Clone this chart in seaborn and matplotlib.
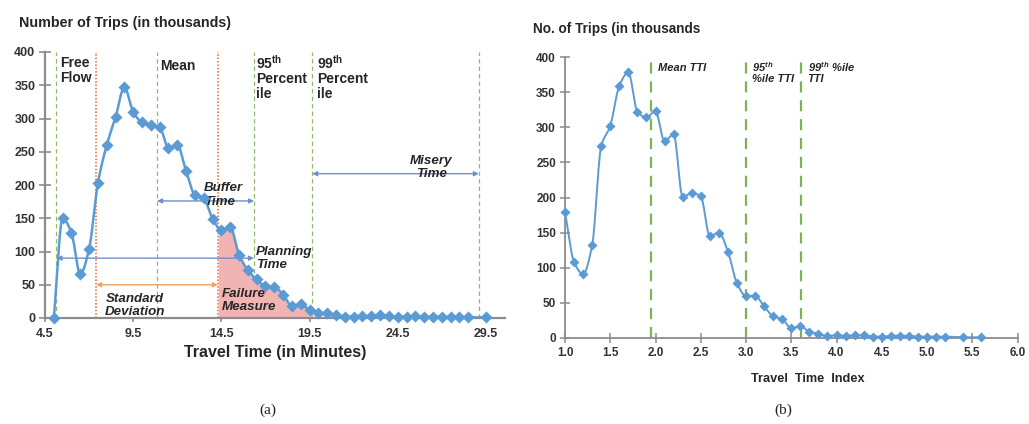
import numpy as np
import matplotlib
matplotlib.use("Agg")
import matplotlib.pyplot as plt
import seaborn as sns

# ---- panel (a): trip counts by travel time in minutes ----
travel_min = [5.0, 5.5, 6.0, 6.5, 7.0, 7.5, 8.0, 8.5, 9.0, 9.5, 10.0, 10.5, 11.0,
              11.5, 12.0, 12.5, 13.0, 13.5, 14.0, 14.5, 15.0, 15.5, 16.0, 16.5,
              17.0, 17.5, 18.0, 18.5, 19.0, 19.5, 20.0, 20.5, 21.0, 21.5, 22.0,
              22.5, 23.0, 23.5, 24.0, 24.5, 25.0, 25.5, 26.0, 26.5, 27.0, 27.5,
              28.0, 28.5, 29.5]
trips_a = [0, 150, 128, 66, 104, 203, 260, 302, 347, 310, 294, 290, 287,
           256, 260, 221, 185, 180, 149, 132, 137, 95, 72, 58,
           48, 47, 35, 18, 21, 12, 8, 7, 5, 2, 2,
           3, 3, 4, 3, 2, 2, 3, 2, 2, 2, 2,
           2, 1, 1]
a_xticks = [4.5, 9.5, 14.5, 19.5, 24.5, 29.5]
free_flow, mean_tt, sd_low, sd_high = 5.15, 10.85, 7.4, 14.3
p95_tt, p99_tt, misery_end = 16.35, 19.65, 29.1

# ---- panel (b): trip counts by travel time index ----
tti = [1.0, 1.1, 1.2, 1.3, 1.4, 1.5, 1.6, 1.7, 1.8, 1.9, 2.0, 2.1, 2.2, 2.3,
       2.4, 2.5, 2.6, 2.7, 2.8, 2.9, 3.0, 3.1, 3.2, 3.3, 3.4, 3.5, 3.6, 3.7,
       3.8, 3.9, 4.0, 4.1, 4.2, 4.3, 4.4, 4.5, 4.6, 4.7, 4.8, 4.9, 5.0, 5.1,
       5.2, 5.4, 5.6]
trips_b = [179, 108, 91, 132, 273, 302, 359, 378, 322, 314, 323, 280, 290, 201,
           206, 202, 145, 150, 123, 78, 60, 60, 45, 31, 27, 14, 17, 9,
           6, 3, 4, 3, 4, 4, 2, 2, 3, 3.5, 3, 2, 2, 2,
           2, 1, 1]
b_xticks = [1.0, 1.5, 2.0, 2.5, 3.0, 3.5, 4.0, 4.5, 5.0, 5.5, 6.0]
mean_tti, p95_tti, p99_tti = 1.95, 3.0, 3.61

y_ticks = [0, 50, 100, 150, 200, 250, 300, 350, 400]

sns.set_theme(style="white")
plt.rcParams["font.family"] = ["Liberation Sans", "DejaVu Sans"]
plt.rcParams["mathtext.fontset"] = "custom"
plt.rcParams["mathtext.rm"] = "Liberation Sans:bold"
plt.rcParams["mathtext.it"] = "Liberation Sans:italic:bold"

BLUE = "#5B9BD5"
GREEN = "#8DBF62"
RED = "#E8642E"
ARROW = "#6F8FCF"
ORANGE = "#F0A060"
TXT = "#262626"
SPINE = "#8C8C8C"


def smooth(x, y, n=14):
    """Monotone cubic (Fritsch-Carlson) curve through the points."""
    x = np.asarray(x, float)
    y = np.asarray(y, float)
    h = np.diff(x)
    d = np.diff(y) / h
    m = np.zeros_like(y)
    for k in range(1, len(x) - 1):
        if d[k - 1] * d[k] > 0:
            w1 = 2 * h[k] + h[k - 1]
            w2 = h[k] + 2 * h[k - 1]
            m[k] = (w1 + w2) / (w1 / d[k - 1] + w2 / d[k])
    m[0], m[-1] = d[0], d[-1]
    xs, ys = [], []
    t = np.linspace(0, 1, n, endpoint=False)
    h00 = 2 * t**3 - 3 * t**2 + 1
    h10 = t**3 - 2 * t**2 + t
    h01 = -2 * t**3 + 3 * t**2
    h11 = t**3 - t**2
    for k in range(len(x) - 1):
        xs.append(x[k] + t * h[k])
        ys.append(h00 * y[k] + h10 * h[k] * m[k] + h01 * y[k + 1] + h11 * h[k] * m[k + 1])
    xs.append([x[-1]])
    ys.append([y[-1]])
    return np.concatenate(xs), np.concatenate(ys)


def style_axes(ax, lw):
    sns.despine(ax=ax)
    for s in ("left", "bottom"):
        ax.spines[s].set_color(SPINE)
        ax.spines[s].set_linewidth(lw)
    ax.set_xlabel("")
    ax.set_ylabel("")


def arrow(ax, x1, x2, y, color):
    ax.annotate("", xy=(x2, y), xytext=(x1, y),
                arrowprops=dict(arrowstyle="<|-|>", color=color, lw=1.0,
                                mutation_scale=7, shrinkA=0, shrinkB=0))


W, H = 1029, 424
fig = plt.figure(figsize=(W / 100, H / 100), dpi=100)

# ================= panel (a) =================
axa = fig.add_axes([45 / W, 1 - 318 / H, (505 - 45) / W, (318 - 52) / H])
axa.set_xlim(4.5, 30.58)
axa.set_ylim(0, 400)

for xv in (free_flow, mean_tt, p95_tt, p99_tt, misery_end):
    axa.plot([xv, xv], [0, 400], color=GREEN, lw=0.9, ls=(0, (3.5, 2.5)), zorder=1)
for xv in (sd_low, sd_high):
    axa.plot([xv, xv], [0, 400], color=RED, lw=1.1, ls=(0, (1, 1.2)), zorder=1)

sx, sy = smooth(travel_min, trips_a)
mask = (sx >= sd_high) & (sx <= p99_tt)
axa.fill_between(sx[mask], 0, sy[mask], color="#F2B3B3", lw=0, zorder=2)

sns.lineplot(x=sx, y=sy, ax=axa, color=BLUE, lw=1.8, sort=False,
             estimator=None, zorder=3)
sns.scatterplot(x=travel_min, y=trips_a, ax=axa, marker="D", s=38, color=BLUE,
                edgecolor=BLUE, linewidth=0, zorder=4, clip_on=False)

arrow(axa, mean_tt, p95_tt, 176, ARROW)
arrow(axa, p99_tt, misery_end, 217, ARROW)
arrow(axa, free_flow, p95_tt, 90, ARROW)
arrow(axa, sd_low, sd_high, 50, ORANGE)

lab = dict(color=TXT, fontsize=10, fontweight="bold", va="top", ha="left")
axa.text(5.35, 394, "Free\nFlow", linespacing=1.05, **lab)
axa.text(11.0, 390, "Mean", **lab)
axa.text(16.45, 397, "95$^{\\rm th}$\nPercent\nile", linespacing=1.05, **lab)
axa.text(19.9, 397, "99$^{\\rm th}$\nPercent\nile", linespacing=1.05, **lab)

itl = dict(color=TXT, fontsize=9.6, fontweight="bold", style="italic",
           va="center", linespacing=1.12)
axa.text(13.5, 185, "Buffer\nTime", ha="left", **itl)
axa.text(26.4, 226, "Misery\nTime", ha="center", **itl)
axa.text(16.45, 89, "Planning\nTime", ha="left", **itl)
axa.text(9.6, 19, "Standard\nDeviation", ha="center", **itl)
axa.text(14.55, 27, "Failure\nMeasure", ha="left", **itl)

axa.set_xticks(a_xticks)
axa.set_yticks(y_ticks)
style_axes(axa, 1.6)
axa.tick_params(axis="y", direction="inout", length=8, width=1.2, color=SPINE,
                labelsize=9, labelcolor="#333333", pad=3, left=True)
axa.tick_params(axis="x", direction="out", length=3, width=1.2, color=SPINE,
                labelsize=9, labelcolor="#333333", pad=4, bottom=True)
for t in axa.get_xticklabels() + axa.get_yticklabels():
    t.set_fontweight("bold")

fig.text(19 / W, 1 - 23 / H, "Number of Trips (in thousands)", ha="left",
         va="center", fontsize=10.3, fontweight="bold", color=TXT)
fig.text(275 / W, 1 - 353 / H, "Travel Time (in Minutes)", ha="center",
         va="center", fontsize=11.5, fontweight="bold", color=TXT)

# ================= panel (b) =================
axb = fig.add_axes([565 / W, 1 - 338 / H, (1017.5 - 565) / W, (338 - 57) / H])
axb.set_xlim(1.0, 6.0)
axb.set_ylim(0, 400)

for xv in (mean_tti, p95_tti, p99_tti):
    axb.plot([xv, xv], [0, 395], color="#7DB356", lw=1.6, ls=(0, (5, 3.5)), zorder=1)

bx, by = smooth(tti, trips_b)
sns.lineplot(x=bx, y=by, ax=axb, color=BLUE, lw=1.4, sort=False,
             estimator=None, zorder=3)
sns.scatterplot(x=tti, y=trips_b, ax=axb, marker="D", s=26, color=BLUE,
                edgecolor=BLUE, linewidth=0, zorder=4, clip_on=False)

sm = dict(color=TXT, fontsize=8, fontweight="bold", style="italic",
          va="top", ha="left", linespacing=1.1)
axb.text(2.03, 392, "Mean TTI", **sm)
axb.text(3.07, 396, "95$^{\\it th}$\n%ile TTI", **sm)
axb.text(3.68, 396, "99$^{\\it th}$ %ile\nTTI", **sm)

axb.set_xticks(b_xticks)
axb.set_xticklabels([f"{v:.1f}" for v in b_xticks])
axb.set_yticks(y_ticks)
style_axes(axb, 1.3)
axb.tick_params(axis="y", direction="inout", length=7, width=1.1, color=SPINE,
                labelsize=8.5, labelcolor="#333333", pad=3, left=True)
axb.tick_params(axis="x", direction="inout", length=7, width=1.1, color=SPINE,
                labelsize=8.5, labelcolor="#333333", pad=3, bottom=True)
for t in axb.get_xticklabels() + axb.get_yticklabels():
    t.set_fontweight("bold")

fig.text(533 / W, 1 - 29 / H, "No. of Trips (in thousands", ha="left",
         va="center", fontsize=9.8, fontweight="bold", color=TXT)
fig.text(808 / W, 1 - 379 / H, "Travel  Time  Index", ha="center",
         va="center", fontsize=9.2, fontweight="bold", color=TXT)

# captions
fig.text(268 / W, 1 - 410 / H, "(a)", ha="center", va="center",
         fontsize=11, family=["Liberation Serif", "DejaVu Serif"], color="#222222")
fig.text(783 / W, 1 - 410 / H, "(b)", ha="center", va="center",
         fontsize=11, family=["Liberation Serif", "DejaVu Serif"], color="#222222")

fig.savefig("out.png", dpi=100, facecolor="white")
